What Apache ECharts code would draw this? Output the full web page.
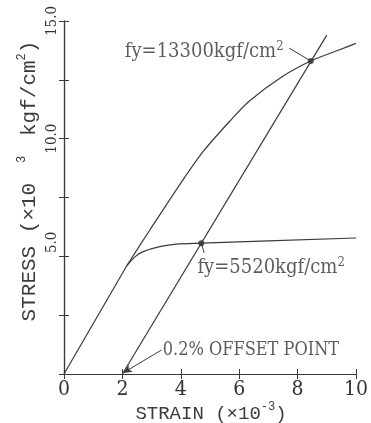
<!DOCTYPE html>
<html><head><meta charset="utf-8">
<script src="https://cdn.jsdelivr.net/npm/echarts@6/dist/echarts.min.js"></script>
<style>html,body{margin:0;padding:0;background:#fff}#c{width:371px;height:423px}</style>
</head><body><div id="c"></div>
<script>
// ---- data (strain x10^-3, stress x10^3 kgf/cm2) ----
const xTickValues = [0, 2, 4, 6, 8, 10];
const yLabelValues = [5, 10, 15];
const elasticLine = [[0,0],[2.15,4.6]];
const upperCurve = [[2.15,4.6],[2.94,6.12],[4.07,8.24],[4.81,9.52],[5.72,10.8],[6.35,11.6],[7.48,12.64],[8.45,13.3],[9.42,13.77],[10,14.05]];
const lowerCurve = [[2.15,4.6],[2.45,5.0],[2.71,5.2],[3.28,5.41],[3.85,5.52],[4.7,5.56],[10,5.78]];
const offsetLine = [[2,0],[9.0,14.4]];
const yieldPoints = [[8.45,13.3],[4.7,5.56]];
const leader13300 = [[7.71,13.85],[8.45,13.3]];
const leader5520 = [[4.7,5.56],[4.8,5.15]];
const leaderOffset = [[3.34,1.02],[2.02,0.04]];
const text13300At = [2.08,13.68];
const text5520At = [4.57,4.5];
const textOffsetAt = [3.38,1.02];

const FONT = '"DejaVu Serif Condensed", "DejaVu Serif", serif';
const MONO = '"Liberation Mono", "DejaVu Sans Mono", monospace';
const INK = '#3a3a3a';
const TXT = '#333';

const chart = echarts.init(document.getElementById('c'), null, {renderer:'canvas'});
const lineBase = {type:'line', showSymbol:false, symbol:'none', animation:false, silent:true,
  lineStyle:{color:INK, width:1.2}, xAxisIndex:0, yAxisIndex:0};
const labelRich = {
  a:{fontSize:20, fontFamily:FONT, color:TXT, lineHeight:24},
  b:{fontSize:18, fontFamily:FONT, color:TXT, lineHeight:24},
  s:{fontSize:13, fontFamily:FONT, color:TXT, lineHeight:13, verticalAlign:'top'}
};
function textPoint(pos, txt){
  return {type:'scatter', symbolSize:0, animation:false, silent:true, xAxisIndex:0, yAxisIndex:0,
    data:[{value:pos}],
    label:{show:true, position:'right', distance:0, formatter:txt, rich:labelRich}};
}
function titleRich(size){
  return {a:{fontSize:size, fontFamily:MONO, fill:'#3c3c3c', lineHeight:26},
          s:{fontSize:12, fontFamily:MONO, fill:'#3c3c3c', lineHeight:12, verticalAlign:'top'}};
}
const yTitle = '{a|STRESS (×10 }{s| 3 }{a| kgf/cm}{s|2}{a|)}';
const xTitle = '{a|STRAIN (×10}{s|-3}{a|)}';

const axisCommon = {type:'value', min:0, axisLine:{show:true, lineStyle:{color:INK, width:1.2}},
  splitLine:{show:false}};
chart.setOption({
  backgroundColor:'#fff',
  grid:{left:64, right:14, top:21, bottom:49},
  xAxis:[
    Object.assign({}, axisCommon, {max:10, interval:2, position:'bottom',
      axisTick:{show:true, inside:true, length:5, lineStyle:{color:INK}},
      axisLabel:{show:true, margin:5, fontSize:21, fontFamily:FONT, color:TXT,
        formatter:v => xTickValues.includes(v) ? String(v) : ''}}),
    Object.assign({}, axisCommon, {max:10, interval:2, position:'top',
      axisTick:{show:true, inside:true, length:5, lineStyle:{color:INK}}, axisLabel:{show:false}})
  ],
  yAxis:[
    Object.assign({}, axisCommon, {max:15, interval:2.5, position:'left',
      axisTick:{show:true, inside:true, length:5, lineStyle:{color:INK}},
      axisLabel:{show:true, rotate:90, margin:4, fontSize:15, fontFamily:FONT, color:TXT,
        rich:{u:{fontSize:15, fontFamily:FONT, color:TXT, padding:[0,0,0,28]}},
        formatter:v => !yLabelValues.includes(v) ? '' : (v === 5 ? '{u|5.0}' : v.toFixed(1))}}),
    Object.assign({}, axisCommon, {max:15, interval:2.5, position:'right',
      axisTick:{show:true, inside:true, length:5, lineStyle:{color:INK}}, axisLabel:{show:false}})
  ],
  series:[
    Object.assign({}, lineBase, {data:elasticLine}),
    Object.assign({}, lineBase, {data:upperCurve, smooth:0.3}),
    Object.assign({}, lineBase, {data:lowerCurve, smooth:0.3}),
    Object.assign({}, lineBase, {data:offsetLine}),
    Object.assign({}, lineBase, {data:leader13300, lineStyle:{color:INK, width:1}}),
    Object.assign({}, lineBase, {data:leader5520, lineStyle:{color:INK, width:1}}),
    Object.assign({}, lineBase, {data:[], markLine:{silent:true, animation:false, symbol:['none','arrow'], symbolSize:[6,9],
      label:{show:false}, lineStyle:{type:'solid', color:INK, width:1},
      data:[[{coord:leaderOffset[0]},{coord:leaderOffset[1]}]]}}),
    {type:'scatter', data:yieldPoints, symbol:'circle', symbolSize:6, itemStyle:{color:'#222'}, animation:false, silent:true},
    textPoint(text13300At, '{a|fy=13300kgf/cm}{s|2}'),
    textPoint(text5520At, '{a|fy=5520kgf/cm}{s|2}'),
    textPoint(textOffsetAt, '{b|0.2% OFFSET POINT}')
  ],
  graphic:[
    {type:'text', x:29, y:181, rotation:Math.PI/2, silent:true,
      style:{text:yTitle, align:'center', verticalAlign:'middle', rich:titleRich(21)}},
    {type:'text', x:211, y:414, silent:true,
      style:{text:xTitle, align:'center', verticalAlign:'middle', rich:titleRich(19)}}
  ]
});
</script></body></html>
